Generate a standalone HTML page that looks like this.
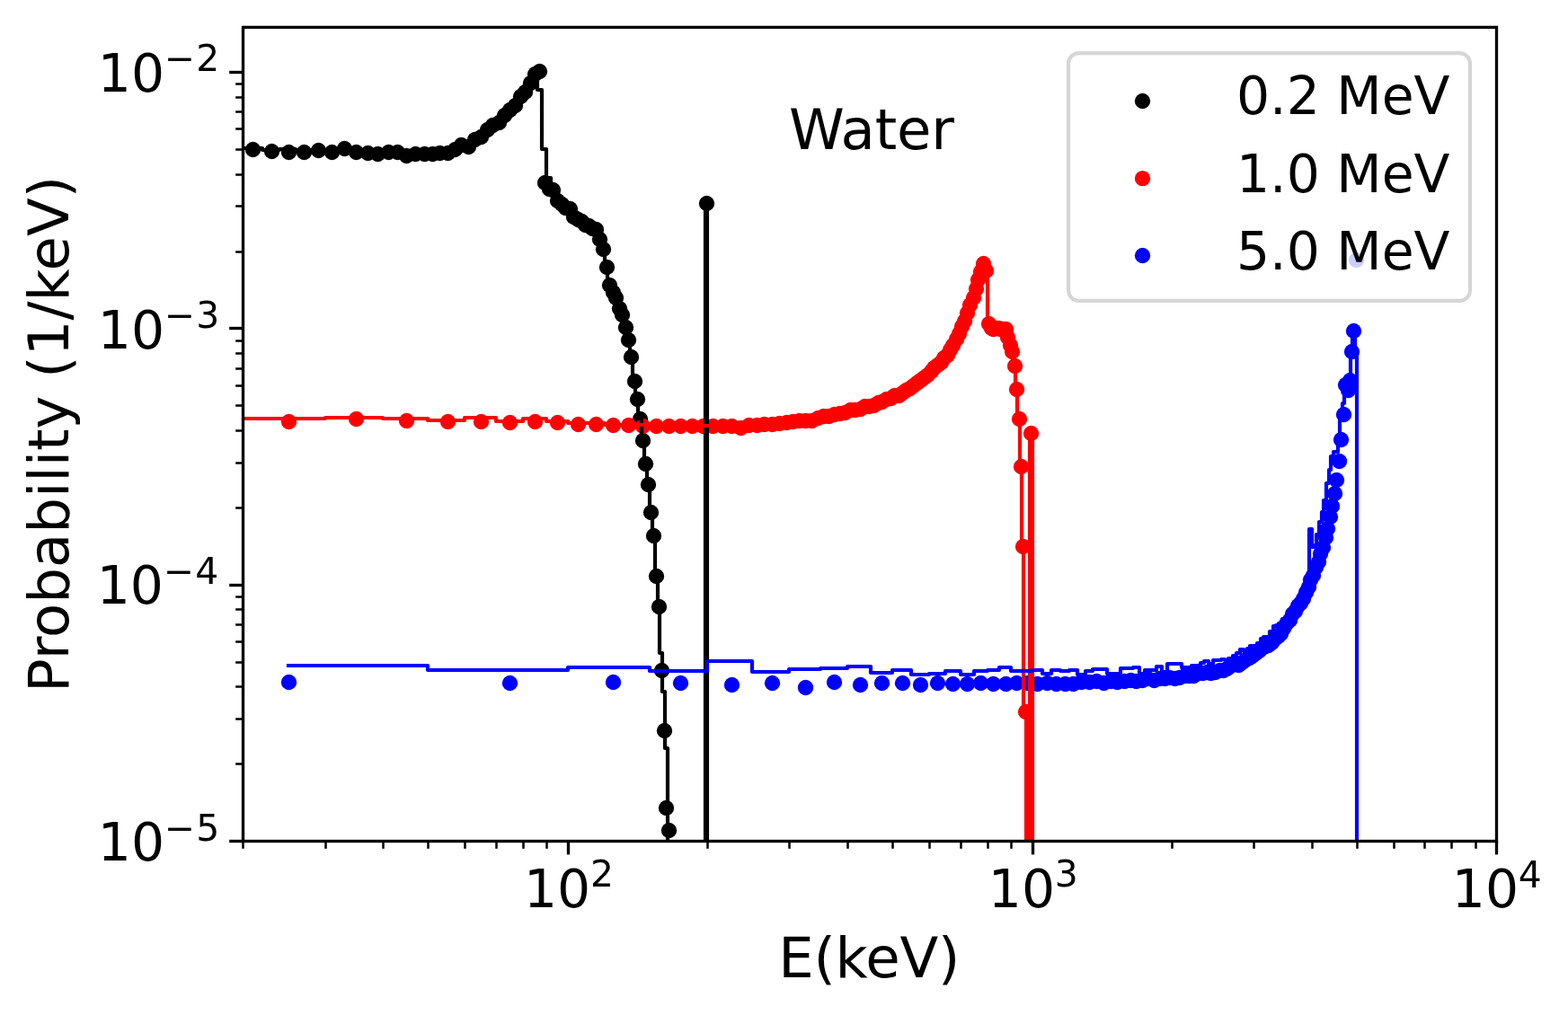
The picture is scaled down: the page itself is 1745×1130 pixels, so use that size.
<!DOCTYPE html>
<html lang="en">
<head>
<meta charset="utf-8">
<title>Energy spectrum in water</title>
<style>
html,body{margin:0;padding:0;background:#fff;}
body{width:1745px;height:1130px;overflow:hidden;}
svg{display:block;}
text{font-family:"DejaVu Sans", "Liberation Sans", sans-serif;fill:#000;}
.tk{font-size:58.33px;}
.sup{font-size:40.83px;}
.lab{font-size:62.5px;}
.leg{font-size:58.33px;}
</style>
</head>
<body>
<svg width="1745" height="1130" viewBox="0 0 1745 1130">
<rect x="0" y="0" width="1745" height="1130" fill="#ffffff"/>
<defs><clipPath id="ax"><rect x="270.5" y="30.4" width="1395" height="906.1"/></clipPath></defs>
<g clip-path="url(#ax)" fill="#000000"><circle cx="281.5" cy="166.5" r="8.65"/><circle cx="302.5" cy="168.5" r="8.65"/><circle cx="321.5" cy="169.5" r="8.65"/><circle cx="338.5" cy="169.5" r="8.65"/><circle cx="354.5" cy="167.5" r="8.65"/><circle cx="369.5" cy="169.5" r="8.65"/><circle cx="383.5" cy="165.5" r="8.65"/><circle cx="396.5" cy="169.5" r="8.65"/><circle cx="409.5" cy="170.5" r="8.65"/><circle cx="420.5" cy="171.5" r="8.65"/><circle cx="432.5" cy="169.5" r="8.65"/><circle cx="442.5" cy="169.5" r="8.65"/><circle cx="452.5" cy="173.5" r="8.65"/><circle cx="462.5" cy="171.5" r="8.65"/><circle cx="472.5" cy="171.5" r="8.65"/><circle cx="481.5" cy="171.5" r="8.65"/><circle cx="489.5" cy="170.5" r="8.65"/><circle cx="498.5" cy="170.5" r="8.65"/><circle cx="506.5" cy="166.5" r="8.65"/><circle cx="513.5" cy="161.5" r="8.65"/><circle cx="521.5" cy="163.5" r="8.65"/><circle cx="528.5" cy="155.5" r="8.65"/><circle cx="535.5" cy="152.5" r="8.65"/><circle cx="542.5" cy="144.5" r="8.65"/><circle cx="548.5" cy="139.5" r="8.65"/><circle cx="555.5" cy="136.5" r="8.65"/><circle cx="561.5" cy="128.5" r="8.65"/><circle cx="567.5" cy="122.5" r="8.65"/><circle cx="573.5" cy="117.5" r="8.65"/><circle cx="579.5" cy="107.5" r="8.65"/><circle cx="584.5" cy="102.5" r="8.65"/><circle cx="590.5" cy="92.5" r="8.65"/><circle cx="595.5" cy="82.5" r="8.65"/><circle cx="600.5" cy="79.5" r="8.65"/><circle cx="606.5" cy="203.5" r="8.65"/><circle cx="611.5" cy="210.5" r="8.65"/><circle cx="615.5" cy="211.5" r="8.65"/><circle cx="620.5" cy="223.5" r="8.65"/><circle cx="625.5" cy="227.5" r="8.65"/><circle cx="629.5" cy="231.5" r="8.65"/><circle cx="634.5" cy="232.5" r="8.65"/><circle cx="638.5" cy="241.5" r="8.65"/><circle cx="643.5" cy="244.5" r="8.65"/><circle cx="647.5" cy="246.5" r="8.65"/><circle cx="651.5" cy="250.5" r="8.65"/><circle cx="655.5" cy="251.5" r="8.65"/><circle cx="659.5" cy="254.5" r="8.65"/><circle cx="663.5" cy="255.5" r="8.65"/><circle cx="667.5" cy="266.5" r="8.65"/><circle cx="671.5" cy="277.5" r="8.65"/><circle cx="675.5" cy="297.5" r="8.65"/><circle cx="678.5" cy="317.5" r="8.65"/><circle cx="682.5" cy="325.5" r="8.65"/><circle cx="685.5" cy="331.5" r="8.65"/><circle cx="689.5" cy="343.5" r="8.65"/><circle cx="692.5" cy="350.5" r="8.65"/><circle cx="696.5" cy="364.5" r="8.65"/><circle cx="699.5" cy="378.5" r="8.65"/><circle cx="702.5" cy="397.5" r="8.65"/><circle cx="706.5" cy="424.5" r="8.65"/><circle cx="709.5" cy="444.5" r="8.65"/><circle cx="712.5" cy="466.5" r="8.65"/><circle cx="715.5" cy="490.5" r="8.65"/><circle cx="718.5" cy="516.5" r="8.65"/><circle cx="721.5" cy="539.5" r="8.65"/><circle cx="724.5" cy="570.5" r="8.65"/><circle cx="727.5" cy="596.5" r="8.65"/><circle cx="730.5" cy="641.5" r="8.65"/><circle cx="733.5" cy="675.5" r="8.65"/><circle cx="736.5" cy="746.5" r="8.65"/><circle cx="739.5" cy="813.5" r="8.65"/><circle cx="741.5" cy="899.5" r="8.65"/><circle cx="744.5" cy="924.5" r="8.65"/><circle cx="786.5" cy="226.5" r="8.65"/></g>
<g clip-path="url(#ax)" fill="#ff0000"><circle cx="321.5" cy="469.5" r="8.65"/><circle cx="396.5" cy="466.5" r="8.65"/><circle cx="452.5" cy="468.5" r="8.65"/><circle cx="498.5" cy="469.5" r="8.65"/><circle cx="535.5" cy="469.5" r="8.65"/><circle cx="567.5" cy="470.5" r="8.65"/><circle cx="595.5" cy="469.5" r="8.65"/><circle cx="620.5" cy="470.5" r="8.65"/><circle cx="643.5" cy="472.5" r="8.65"/><circle cx="663.5" cy="472.5" r="8.65"/><circle cx="682.5" cy="473.5" r="8.65"/><circle cx="699.5" cy="473.5" r="8.65"/><circle cx="715.5" cy="474.5" r="8.65"/><circle cx="730.5" cy="474.5" r="8.65"/><circle cx="744.5" cy="474.5" r="8.65"/><circle cx="757.5" cy="474.5" r="8.65"/><circle cx="770.5" cy="474.5" r="8.65"/><circle cx="782.5" cy="474.5" r="8.65"/><circle cx="793.5" cy="474.5" r="8.65"/><circle cx="804.5" cy="474.5" r="8.65"/><circle cx="814.5" cy="474.5" r="8.65"/><circle cx="824.5" cy="476.5" r="8.65"/><circle cx="833.5" cy="473.5" r="8.65"/><circle cx="842.5" cy="473.5" r="8.65"/><circle cx="850.5" cy="472.5" r="8.65"/><circle cx="859.5" cy="472.5" r="8.65"/><circle cx="867.5" cy="471.5" r="8.65"/><circle cx="875.5" cy="470.5" r="8.65"/><circle cx="882.5" cy="469.5" r="8.65"/><circle cx="889.5" cy="468.5" r="8.65"/><circle cx="896.5" cy="468.5" r="8.65"/><circle cx="903.5" cy="468.5" r="8.65"/><circle cx="910.5" cy="465.5" r="8.65"/><circle cx="916.5" cy="463.5" r="8.65"/><circle cx="922.5" cy="463.5" r="8.65"/><circle cx="928.5" cy="461.5" r="8.65"/><circle cx="934.5" cy="460.5" r="8.65"/><circle cx="940.5" cy="459.5" r="8.65"/><circle cx="946.5" cy="456.5" r="8.65"/><circle cx="951.5" cy="456.5" r="8.65"/><circle cx="957.5" cy="455.5" r="8.65"/><circle cx="962.5" cy="452.5" r="8.65"/><circle cx="967.5" cy="452.5" r="8.65"/><circle cx="972.5" cy="451.5" r="8.65"/><circle cx="977.5" cy="448.5" r="8.65"/><circle cx="981.5" cy="447.5" r="8.65"/><circle cx="986.5" cy="444.5" r="8.65"/><circle cx="991.5" cy="443.5" r="8.65"/><circle cx="995.5" cy="440.5" r="8.65"/><circle cx="1000.5" cy="440.5" r="8.65"/><circle cx="1004.5" cy="437.5" r="8.65"/><circle cx="1008.5" cy="434.5" r="8.65"/><circle cx="1012.5" cy="432.5" r="8.65"/><circle cx="1016.5" cy="429.5" r="8.65"/><circle cx="1020.5" cy="426.5" r="8.65"/><circle cx="1024.5" cy="423.5" r="8.65"/><circle cx="1028.5" cy="420.5" r="8.65"/><circle cx="1032.5" cy="417.5" r="8.65"/><circle cx="1036.5" cy="413.5" r="8.65"/><circle cx="1039.5" cy="409.5" r="8.65"/><circle cx="1043.5" cy="406.5" r="8.65"/><circle cx="1047.5" cy="403.5" r="8.65"/><circle cx="1050.5" cy="398.5" r="8.65"/><circle cx="1054.5" cy="395.5" r="8.65"/><circle cx="1057.5" cy="389.5" r="8.65"/><circle cx="1060.5" cy="384.5" r="8.65"/><circle cx="1064.5" cy="377.5" r="8.65"/><circle cx="1067.5" cy="371.5" r="8.65"/><circle cx="1070.5" cy="363.5" r="8.65"/><circle cx="1073.5" cy="357.5" r="8.65"/><circle cx="1076.5" cy="348.5" r="8.65"/><circle cx="1079.5" cy="339.5" r="8.65"/><circle cx="1083.5" cy="331.5" r="8.65"/><circle cx="1086.5" cy="321.5" r="8.65"/><circle cx="1088.5" cy="311.5" r="8.65"/><circle cx="1091.5" cy="302.5" r="8.65"/><circle cx="1094.5" cy="293.5" r="8.65"/><circle cx="1097.5" cy="301.5" r="8.65"/><circle cx="1100.5" cy="360.5" r="8.65"/><circle cx="1103.5" cy="365.5" r="8.65"/><circle cx="1105.5" cy="366.5" r="8.65"/><circle cx="1108.5" cy="365.5" r="8.65"/><circle cx="1111.5" cy="365.5" r="8.65"/><circle cx="1113.5" cy="366.5" r="8.65"/><circle cx="1116.5" cy="366.5" r="8.65"/><circle cx="1119.5" cy="366.5" r="8.65"/><circle cx="1121.5" cy="375.5" r="8.65"/><circle cx="1124.5" cy="384.5" r="8.65"/><circle cx="1126.5" cy="391.5" r="8.65"/><circle cx="1129.5" cy="407.5" r="8.65"/><circle cx="1131.5" cy="433.5" r="8.65"/><circle cx="1134.5" cy="466.5" r="8.65"/><circle cx="1136.5" cy="519.5" r="8.65"/><circle cx="1138.5" cy="608.5" r="8.65"/><circle cx="1141.5" cy="792.5" r="8.65"/><circle cx="1147.5" cy="482.5" r="8.65"/></g>
<g clip-path="url(#ax)" fill="#0000ff"><circle cx="321.5" cy="759.5" r="8.65"/><circle cx="567.5" cy="760.5" r="8.65"/><circle cx="682.5" cy="759.5" r="8.65"/><circle cx="757.5" cy="760.5" r="8.65"/><circle cx="814.5" cy="762.5" r="8.65"/><circle cx="859.5" cy="760.5" r="8.65"/><circle cx="896.5" cy="765.5" r="8.65"/><circle cx="928.5" cy="759.5" r="8.65"/><circle cx="957.5" cy="762.5" r="8.65"/><circle cx="981.5" cy="760.5" r="8.65"/><circle cx="1004.5" cy="760.5" r="8.65"/><circle cx="1024.5" cy="762.5" r="8.65"/><circle cx="1043.5" cy="760.5" r="8.65"/><circle cx="1060.5" cy="761.5" r="8.65"/><circle cx="1076.5" cy="761.5" r="8.65"/><circle cx="1091.5" cy="760.5" r="8.65"/><circle cx="1105.5" cy="761.5" r="8.65"/><circle cx="1119.5" cy="761.5" r="8.65"/><circle cx="1131.5" cy="760.5" r="8.65"/><circle cx="1143.5" cy="760.5" r="8.65"/><circle cx="1154.5" cy="761.5" r="8.65"/><circle cx="1165.5" cy="760.5" r="8.65"/><circle cx="1175.5" cy="761.5" r="8.65"/><circle cx="1185.5" cy="761.5" r="8.65"/><circle cx="1194.5" cy="761.5" r="8.65"/><circle cx="1203.5" cy="759.5" r="8.65"/><circle cx="1212.5" cy="759.5" r="8.65"/><circle cx="1220.5" cy="758.5" r="8.65"/><circle cx="1228.5" cy="760.5" r="8.65"/><circle cx="1236.5" cy="758.5" r="8.65"/><circle cx="1243.5" cy="759.5" r="8.65"/><circle cx="1251.5" cy="758.5" r="8.65"/><circle cx="1258.5" cy="757.5" r="8.65"/><circle cx="1264.5" cy="758.5" r="8.65"/><circle cx="1271.5" cy="757.5" r="8.65"/><circle cx="1277.5" cy="755.5" r="8.65"/><circle cx="1284.5" cy="757.5" r="8.65"/><circle cx="1290.5" cy="755.5" r="8.65"/><circle cx="1296.5" cy="755.5" r="8.65"/><circle cx="1301.5" cy="754.5" r="8.65"/><circle cx="1307.5" cy="755.5" r="8.65"/><circle cx="1312.5" cy="754.5" r="8.65"/><circle cx="1318.5" cy="752.5" r="8.65"/><circle cx="1323.5" cy="752.5" r="8.65"/><circle cx="1328.5" cy="752.5" r="8.65"/><circle cx="1333.5" cy="749.5" r="8.65"/><circle cx="1338.5" cy="749.5" r="8.65"/><circle cx="1343.5" cy="748.5" r="8.65"/><circle cx="1347.5" cy="749.5" r="8.65"/><circle cx="1352.5" cy="748.5" r="8.65"/><circle cx="1357.5" cy="746.5" r="8.65"/><circle cx="1361.5" cy="746.5" r="8.65"/><circle cx="1365.5" cy="744.5" r="8.65"/><circle cx="1369.5" cy="741.5" r="8.65"/><circle cx="1374.5" cy="739.5" r="8.65"/><circle cx="1378.5" cy="740.5" r="8.65"/><circle cx="1382.5" cy="737.5" r="8.65"/><circle cx="1386.5" cy="734.5" r="8.65"/><circle cx="1390.5" cy="732.5" r="8.65"/><circle cx="1393.5" cy="730.5" r="8.65"/><circle cx="1397.5" cy="727.5" r="8.65"/><circle cx="1401.5" cy="724.5" r="8.65"/><circle cx="1404.5" cy="721.5" r="8.65"/><circle cx="1408.5" cy="719.5" r="8.65"/><circle cx="1411.5" cy="718.5" r="8.65"/><circle cx="1415.5" cy="715.5" r="8.65"/><circle cx="1418.5" cy="711.5" r="8.65"/><circle cx="1422.5" cy="708.5" r="8.65"/><circle cx="1425.5" cy="705.5" r="8.65"/><circle cx="1428.5" cy="699.5" r="8.65"/><circle cx="1431.5" cy="694.5" r="8.65"/><circle cx="1435.5" cy="690.5" r="8.65"/><circle cx="1438.5" cy="683.5" r="8.65"/><circle cx="1441.5" cy="680.5" r="8.65"/><circle cx="1444.5" cy="674.5" r="8.65"/><circle cx="1447.5" cy="671.5" r="8.65"/><circle cx="1450.5" cy="666.5" r="8.65"/><circle cx="1453.5" cy="659.5" r="8.65"/><circle cx="1456.5" cy="653.5" r="8.65"/><circle cx="1458.5" cy="645.5" r="8.65"/><circle cx="1461.5" cy="640.5" r="8.65"/><circle cx="1464.5" cy="631.5" r="8.65"/><circle cx="1467.5" cy="625.5" r="8.65"/><circle cx="1469.5" cy="616.5" r="8.65"/><circle cx="1472.5" cy="609.5" r="8.65"/><circle cx="1475.5" cy="598.5" r="8.65"/><circle cx="1477.5" cy="588.5" r="8.65"/><circle cx="1480.5" cy="575.5" r="8.65"/><circle cx="1482.5" cy="563.5" r="8.65"/><circle cx="1485.5" cy="549.5" r="8.65"/><circle cx="1487.5" cy="534.5" r="8.65"/><circle cx="1490.5" cy="513.5" r="8.65"/><circle cx="1492.5" cy="489.5" r="8.65"/><circle cx="1495.5" cy="461.5" r="8.65"/><circle cx="1497.5" cy="428.5" r="8.65"/><circle cx="1500.5" cy="434.5" r="8.65"/><circle cx="1502.5" cy="423.5" r="8.65"/><circle cx="1504.5" cy="391.5" r="8.65"/><circle cx="1506.5" cy="368.5" r="8.65"/><circle cx="1509.5" cy="289.5" r="8.65"/></g>
<path clip-path="url(#ax)" d="M-402 165 L-246 165 L-246 165 L-91 165 L-91 165 L0 165 L0 165 L65 165 L65 165 L115 165 L115 165 L156 165 L156 165 L190 165 L190 165 L220 165 L220 165 L247 165 L247 165 L271 165 L271 165 L292 165 L292 167 L311 167 L311 166 L329 166 L329 167 L346 167 L346 167 L362 167 L362 167 L376 167 L376 167 L390 167 L390 167 L402 167 L402 168 L415 168 L415 168 L426 168 L426 168 L437 168 L437 168 L447 168 L447 168 L457 168 L457 168 L467 168 L467 168 L476 168 L476 168 L485 168 L485 168 L493 168 L493 168 L502 168 L502 166 L509 166 L509 161 L517 161 L517 163 L524 163 L524 156 L532 156 L532 153 L539 153 L539 145 L545 145 L545 140 L552 140 L552 136 L558 136 L558 129 L564 129 L564 123 L570 123 L570 117 L576 117 L576 108 L582 108 L582 102 L587 102 L587 92 L593 92 L593 83 L598 83 L598 100 L603 100 L603 166 L608 166 L608 198 L613 198 L613 212 L618 212 L618 223 L623 223 L623 227 L627 227 L627 231 L632 231 L632 232 L636 232 L636 241 L641 241 L641 244 L645 244 L645 247 L649 247 L649 250 L653 250 L653 251 L657 251 L657 254 L661 254 L661 255 L665 255 L665 266 L669 266 L669 278 L673 278 L673 298 L676 298 L676 318 L680 318 L680 325 L684 325 L684 331 L687 331 L687 343 L691 343 L691 350 L694 350 L694 364 L697 364 L697 379 L701 379 L701 398 L704 398 L704 424 L707 424 L707 444 L710 444 L710 466 L714 466 L714 490 L717 490 L717 516 L720 516 L720 539 L723 539 L723 571 L726 571 L726 596 L729 596 L729 641 L732 641 L732 672 L734 672 L734 727 L737 727 L737 770 L740 770 L740 833 L743 833 L743 977 L746 977 L746 977 L748 977 L748 977 L751 977 L751 977 L754 977 L754 977 L756 977 L756 977 L759 977 L759 977 L761 977 L761 977 L764 977 L764 977 L766 977 L766 977 L769 977 L769 977 L771 977 L771 977 L773 977 L773 977 L776 977 L776 977 L778 977 L778 977 L781 977 L781 977 L783 977 L783 977 L785 977 L785 226 L787 226 L787 977 L788 977" fill="none" stroke="#000000" stroke-width="4.17" stroke-linejoin="round" stroke-linecap="square"/>
<path clip-path="url(#ax)" d="M-41 466 L115 466 L115 466 L271 466 L271 466 L362 466 L362 465 L426 465 L426 466 L476 466 L476 468 L517 468 L517 465 L552 465 L552 469 L582 469 L582 466 L608 466 L608 469 L632 469 L632 471 L653 471 L653 471 L673 471 L673 473 L691 473 L691 473 L707 473 L707 473 L723 473 L723 473 L737 473 L737 474 L751 474 L751 474 L764 474 L764 474 L776 474 L776 474 L787 474 L787 474 L798 474 L798 474 L809 474 L809 473 L819 473 L819 476 L828 476 L828 473 L837 473 L837 473 L846 473 L846 472 L855 472 L855 472 L863 472 L863 471 L871 471 L871 470 L878 470 L878 469 L886 469 L886 468 L893 468 L893 468 L900 468 L900 468 L906 468 L906 465 L913 465 L913 463 L919 463 L919 463 L925 463 L925 461 L931 461 L931 460 L937 460 L937 459 L943 459 L943 456 L948 456 L948 456 L954 456 L954 454 L959 454 L959 452 L964 452 L964 452 L969 452 L969 450 L974 450 L974 447 L979 447 L979 447 L984 447 L984 444 L989 444 L989 443 L993 443 L993 440 L997 440 L997 439 L1002 439 L1002 436 L1006 436 L1006 433 L1010 433 L1010 431 L1014 431 L1014 429 L1018 429 L1018 426 L1022 426 L1022 423 L1026 423 L1026 419 L1030 419 L1030 416 L1034 416 L1034 413 L1038 413 L1038 409 L1041 409 L1041 406 L1045 406 L1045 402 L1048 402 L1048 398 L1052 398 L1052 395 L1055 395 L1055 389 L1059 389 L1059 383 L1062 383 L1062 377 L1065 377 L1065 371 L1069 371 L1069 363 L1072 363 L1072 357 L1075 357 L1075 348 L1078 348 L1078 339 L1081 339 L1081 330 L1084 330 L1084 320 L1087 320 L1087 311 L1090 311 L1090 302 L1093 302 L1093 293 L1096 293 L1096 300 L1099 300 L1099 360 L1101 360 L1101 366 L1104 366 L1104 366 L1107 366 L1107 366 L1109 366 L1109 366 L1112 366 L1112 366 L1115 366 L1115 367 L1117 367 L1117 366 L1120 366 L1120 375 L1122 375 L1122 385 L1125 385 L1125 392 L1127 392 L1127 407 L1130 407 L1130 433 L1132 433 L1132 466 L1135 466 L1135 519 L1137 519 L1137 609 L1139 609 L1139 788 L1142 788 L1142 977 L1144 977 L1144 977 L1146 977 L1146 482 L1149 482 L1149 977 L1150 977" fill="none" stroke="#ff0000" stroke-width="4.17" stroke-linejoin="round" stroke-linecap="square"/>
<path clip-path="url(#ax)" d="M321 741 L476 741 L476 746 L632 746 L632 743 L723 743 L723 747 L787 747 L787 736 L837 736 L837 748 L878 748 L878 745 L913 745 L913 744 L943 744 L943 742 L969 742 L969 749 L993 749 L993 746 L1014 746 L1014 751 L1034 751 L1034 750 L1052 750 L1052 747 L1069 747 L1069 751 L1084 751 L1084 747 L1099 747 L1099 746 L1112 746 L1112 743 L1125 743 L1125 747 L1137 747 L1137 747 L1149 747 L1149 746 L1160 746 L1160 750 L1170 750 L1170 746 L1180 746 L1180 747 L1190 747 L1190 746 L1199 746 L1199 751 L1208 751 L1208 747 L1216 747 L1216 745 L1224 745 L1224 745 L1232 745 L1232 750 L1240 750 L1240 750 L1247 750 L1247 744 L1254 744 L1254 744 L1261 744 L1261 743 L1268 743 L1268 750 L1274 750 L1274 746 L1281 746 L1281 746 L1287 746 L1287 742 L1293 742 L1293 748 L1299 748 L1299 739 L1304 739 L1304 739 L1310 739 L1310 739 L1315 739 L1315 743 L1320 743 L1320 743 L1326 743 L1326 741 L1331 741 L1331 741 L1336 741 L1336 738 L1340 738 L1340 736 L1345 736 L1345 739 L1350 739 L1350 735 L1354 735 L1354 735 L1359 735 L1359 734 L1363 734 L1363 735 L1367 735 L1367 733 L1372 733 L1372 730 L1376 730 L1376 727 L1380 727 L1380 723 L1384 723 L1384 725 L1388 725 L1388 722 L1391 722 L1391 719 L1395 719 L1395 719 L1399 719 L1399 716 L1403 716 L1403 711 L1406 711 L1406 709 L1410 709 L1410 709 L1413 709 L1413 703 L1417 703 L1417 697 L1420 697 L1420 696 L1423 696 L1423 694 L1427 694 L1427 689 L1430 689 L1430 687 L1433 687 L1433 685 L1436 685 L1436 679 L1439 679 L1439 676 L1442 676 L1442 672 L1445 672 L1445 667 L1448 667 L1448 661 L1451 661 L1451 656 L1454 656 L1454 649 L1457 649 L1457 589 L1460 589 L1460 609 L1463 609 L1463 607 L1465 607 L1465 595 L1468 595 L1468 581 L1471 581 L1471 570 L1473 570 L1473 557 L1476 557 L1476 538 L1479 538 L1479 523 L1481 523 L1481 508 L1484 508 L1484 503 L1486 503 L1486 503 L1489 503 L1489 490 L1491 490 L1491 466 L1494 466 L1494 449 L1496 449 L1496 432 L1498 432 L1498 430 L1501 430 L1501 424 L1503 424 L1503 395 L1505 395 L1505 368 L1508 368 L1508 390 L1510 390 L1510 977 L1511 977" fill="none" stroke="#0000ff" stroke-width="4.17" stroke-linejoin="round" stroke-linecap="square"/>
<g><line x1="632.5" y1="936.5" x2="632.5" y2="951.4" stroke="#000" stroke-width="3.33"/><line x1="1149.5" y1="936.5" x2="1149.5" y2="951.4" stroke="#000" stroke-width="3.33"/><line x1="1665.5" y1="936.5" x2="1665.5" y2="951.4" stroke="#000" stroke-width="3.33"/><line x1="270.5" y1="936.5" x2="270.5" y2="944.83" stroke="#000" stroke-width="2.5"/><line x1="362.5" y1="936.5" x2="362.5" y2="944.83" stroke="#000" stroke-width="2.5"/><line x1="426.5" y1="936.5" x2="426.5" y2="944.83" stroke="#000" stroke-width="2.5"/><line x1="476.5" y1="936.5" x2="476.5" y2="944.83" stroke="#000" stroke-width="2.5"/><line x1="517.5" y1="936.5" x2="517.5" y2="944.83" stroke="#000" stroke-width="2.5"/><line x1="552.5" y1="936.5" x2="552.5" y2="944.83" stroke="#000" stroke-width="2.5"/><line x1="582.5" y1="936.5" x2="582.5" y2="944.83" stroke="#000" stroke-width="2.5"/><line x1="608.5" y1="936.5" x2="608.5" y2="944.83" stroke="#000" stroke-width="2.5"/><line x1="787.5" y1="936.5" x2="787.5" y2="944.83" stroke="#000" stroke-width="2.5"/><line x1="878.5" y1="936.5" x2="878.5" y2="944.83" stroke="#000" stroke-width="2.5"/><line x1="943.5" y1="936.5" x2="943.5" y2="944.83" stroke="#000" stroke-width="2.5"/><line x1="993.5" y1="936.5" x2="993.5" y2="944.83" stroke="#000" stroke-width="2.5"/><line x1="1034.5" y1="936.5" x2="1034.5" y2="944.83" stroke="#000" stroke-width="2.5"/><line x1="1069.5" y1="936.5" x2="1069.5" y2="944.83" stroke="#000" stroke-width="2.5"/><line x1="1099.5" y1="936.5" x2="1099.5" y2="944.83" stroke="#000" stroke-width="2.5"/><line x1="1125.5" y1="936.5" x2="1125.5" y2="944.83" stroke="#000" stroke-width="2.5"/><line x1="1304.5" y1="936.5" x2="1304.5" y2="944.83" stroke="#000" stroke-width="2.5"/><line x1="1395.5" y1="936.5" x2="1395.5" y2="944.83" stroke="#000" stroke-width="2.5"/><line x1="1460.5" y1="936.5" x2="1460.5" y2="944.83" stroke="#000" stroke-width="2.5"/><line x1="1510.5" y1="936.5" x2="1510.5" y2="944.83" stroke="#000" stroke-width="2.5"/><line x1="1551.5" y1="936.5" x2="1551.5" y2="944.83" stroke="#000" stroke-width="2.5"/><line x1="1585.5" y1="936.5" x2="1585.5" y2="944.83" stroke="#000" stroke-width="2.5"/><line x1="1615.5" y1="936.5" x2="1615.5" y2="944.83" stroke="#000" stroke-width="2.5"/><line x1="1642.5" y1="936.5" x2="1642.5" y2="944.83" stroke="#000" stroke-width="2.5"/><line x1="255.2" y1="936.5" x2="270.5" y2="936.5" stroke="#000" stroke-width="3.33"/><line x1="255.2" y1="651.5" x2="270.5" y2="651.5" stroke="#000" stroke-width="3.33"/><line x1="255.2" y1="365.5" x2="270.5" y2="365.5" stroke="#000" stroke-width="3.33"/><line x1="255.2" y1="80.5" x2="270.5" y2="80.5" stroke="#000" stroke-width="3.33"/><line x1="262.17" y1="850.5" x2="270.5" y2="850.5" stroke="#000" stroke-width="2.5"/><line x1="262.17" y1="800.5" x2="270.5" y2="800.5" stroke="#000" stroke-width="2.5"/><line x1="262.17" y1="764.5" x2="270.5" y2="764.5" stroke="#000" stroke-width="2.5"/><line x1="262.17" y1="737.5" x2="270.5" y2="737.5" stroke="#000" stroke-width="2.5"/><line x1="262.17" y1="714.5" x2="270.5" y2="714.5" stroke="#000" stroke-width="2.5"/><line x1="262.17" y1="695.5" x2="270.5" y2="695.5" stroke="#000" stroke-width="2.5"/><line x1="262.17" y1="678.5" x2="270.5" y2="678.5" stroke="#000" stroke-width="2.5"/><line x1="262.17" y1="664.5" x2="270.5" y2="664.5" stroke="#000" stroke-width="2.5"/><line x1="262.17" y1="565.5" x2="270.5" y2="565.5" stroke="#000" stroke-width="2.5"/><line x1="262.17" y1="515.5" x2="270.5" y2="515.5" stroke="#000" stroke-width="2.5"/><line x1="262.17" y1="479.5" x2="270.5" y2="479.5" stroke="#000" stroke-width="2.5"/><line x1="262.17" y1="451.5" x2="270.5" y2="451.5" stroke="#000" stroke-width="2.5"/><line x1="262.17" y1="429.5" x2="270.5" y2="429.5" stroke="#000" stroke-width="2.5"/><line x1="262.17" y1="410.5" x2="270.5" y2="410.5" stroke="#000" stroke-width="2.5"/><line x1="262.17" y1="393.5" x2="270.5" y2="393.5" stroke="#000" stroke-width="2.5"/><line x1="262.17" y1="379.5" x2="270.5" y2="379.5" stroke="#000" stroke-width="2.5"/><line x1="262.17" y1="280.5" x2="270.5" y2="280.5" stroke="#000" stroke-width="2.5"/><line x1="262.17" y1="229.5" x2="270.5" y2="229.5" stroke="#000" stroke-width="2.5"/><line x1="262.17" y1="194.5" x2="270.5" y2="194.5" stroke="#000" stroke-width="2.5"/><line x1="262.17" y1="166.5" x2="270.5" y2="166.5" stroke="#000" stroke-width="2.5"/><line x1="262.17" y1="143.5" x2="270.5" y2="143.5" stroke="#000" stroke-width="2.5"/><line x1="262.17" y1="124.5" x2="270.5" y2="124.5" stroke="#000" stroke-width="2.5"/><line x1="262.17" y1="108.5" x2="270.5" y2="108.5" stroke="#000" stroke-width="2.5"/><line x1="262.17" y1="93.5" x2="270.5" y2="93.5" stroke="#000" stroke-width="2.5"/></g>
<rect x="270.5" y="30.4" width="1395" height="906.1" fill="none" stroke="#000" stroke-width="3.33" stroke-linejoin="miter"/>
<text class="tk" x="582.97" y="1010">10<tspan class="sup" dx="-0.2" dy="-23">2</tspan></text>
<text class="tk" x="1099.84" y="1010">10<tspan class="sup" dx="-0.2" dy="-23">3</tspan></text>
<text class="tk" x="1615.8" y="1010">10<tspan class="sup" dx="-0.2" dy="-22">4</tspan></text>
<text class="tk" x="108.84" y="958">10<tspan class="sup" dx="-0.2" dy="-22">−</tspan><tspan class="sup" dx="1.2">5</tspan></text>
<text class="tk" x="107.74" y="672">10<tspan class="sup" dx="-0.2" dy="-22">−</tspan><tspan class="sup" dx="1.2">4</tspan></text>
<text class="tk" x="108.84" y="388">10<tspan class="sup" dx="-0.2" dy="-23">−</tspan><tspan class="sup" dx="1.2">3</tspan></text>
<text class="tk" x="108.84" y="102">10<tspan class="sup" dx="-0.2" dy="-23">−</tspan><tspan class="sup" dx="1.2">2</tspan></text>
<text class="lab" x="967.2" y="1088" text-anchor="middle" letter-spacing="-0.25">E(keV)</text>
<text class="lab" transform="translate(76.4 483.4) rotate(-90)" text-anchor="middle">Probability (1/keV)</text>
<text class="lab" x="878" y="166" letter-spacing="-0.18">Water</text>
<rect x="1189.05" y="59.05" width="446.91" height="275.88" rx="11.67" ry="11.67" fill="#ffffff" fill-opacity="0.8" stroke="#cccccc" stroke-opacity="0.8" stroke-width="4.17"/>
<circle cx="1271.5" cy="112.5" r="8.65" fill="#000000"/><text class="leg" x="1376" y="127">0.2 MeV</text>
<circle cx="1271.5" cy="198.7" r="8.65" fill="#ff0000"/><text class="leg" x="1376" y="214">1.0 MeV</text>
<circle cx="1271.5" cy="284.5" r="8.65" fill="#0000ff"/><text class="leg" x="1376" y="300">5.0 MeV</text>
</svg>
</body>
</html>
